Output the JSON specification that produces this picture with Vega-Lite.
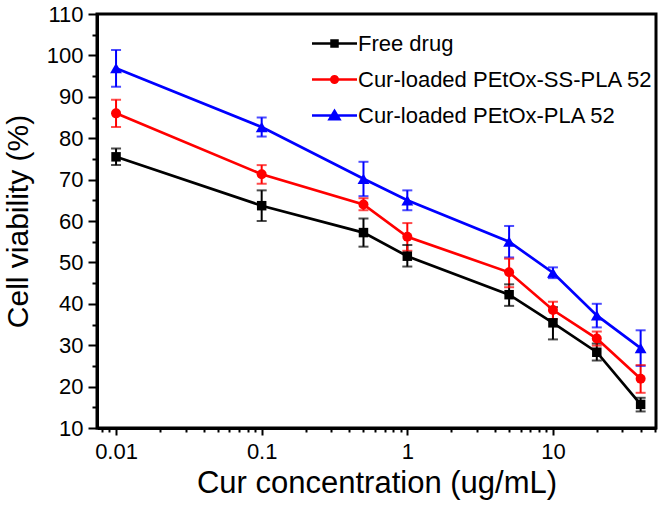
{
  "$schema": "https://vega.github.io/schema/vega-lite/v6.json",
  "width": 559,
  "height": 414,
  "autosize": {"type": "none"},
  "padding": {"left": 97, "right": 5, "top": 14, "bottom": 81},
  "background": "white",
  "config": {
    "font": "Liberation Sans",
    "view": {"stroke": "black", "strokeWidth": 3},
    "axis": {"grid": false, "domainColor": "black", "domainWidth": 3, "tickColor": "black", "labelColor": "black", "titleColor": "black", "labelFont": "Liberation Sans", "titleFont": "Liberation Sans", "titleFontWeight": "normal"},
    "legend": {"orient": "none", "legendX": 221, "legendY": 13, "labelFontSize": 22, "labelFont": "Liberation Sans", "labelColor": "black", "symbolSize": 900, "symbolStrokeWidth": 2.5, "symbolOpacity": 1, "rowPadding": 8, "labelOffset": 7, "padding": 0, "labelLimit": 400}
  },
  "datasets": {
    "cells": [
      {"conc": 0.01, "series": "Free drug", "v": 75.5, "lo": 73.5, "hi": 77.5},
      {"conc": 0.1, "series": "Free drug", "v": 63.7, "lo": 60.0, "hi": 67.4},
      {"conc": 0.5, "series": "Free drug", "v": 57.2, "lo": 53.8, "hi": 60.6},
      {"conc": 1, "series": "Free drug", "v": 51.5, "lo": 49.0, "hi": 54.2},
      {"conc": 5, "series": "Free drug", "v": 42.2, "lo": 39.5, "hi": 44.7},
      {"conc": 10, "series": "Free drug", "v": 35.4, "lo": 31.4, "hi": 39.2},
      {"conc": 20, "series": "Free drug", "v": 28.3, "lo": 26.3, "hi": 30.4},
      {"conc": 40, "series": "Free drug", "v": 15.7, "lo": 14.0, "hi": 17.3},
      {"conc": 0.01, "series": "Cur-loaded PEtOx-SS-PLA 52", "v": 86.0, "lo": 82.7, "hi": 89.3},
      {"conc": 0.1, "series": "Cur-loaded PEtOx-SS-PLA 52", "v": 71.3, "lo": 69.0, "hi": 73.5},
      {"conc": 0.5, "series": "Cur-loaded PEtOx-SS-PLA 52", "v": 64.0, "lo": 62.6, "hi": 65.5},
      {"conc": 1, "series": "Cur-loaded PEtOx-SS-PLA 52", "v": 56.2, "lo": 52.8, "hi": 59.5},
      {"conc": 5, "series": "Cur-loaded PEtOx-SS-PLA 52", "v": 47.6, "lo": 44.0, "hi": 50.9},
      {"conc": 10, "series": "Cur-loaded PEtOx-SS-PLA 52", "v": 38.5, "lo": 36.3, "hi": 40.5},
      {"conc": 20, "series": "Cur-loaded PEtOx-SS-PLA 52", "v": 31.6, "lo": 29.9, "hi": 33.3},
      {"conc": 40, "series": "Cur-loaded PEtOx-SS-PLA 52", "v": 21.9, "lo": 18.5, "hi": 25.2},
      {"conc": 0.01, "series": "Cur-loaded PEtOx-PLA 52", "v": 96.9, "lo": 92.4, "hi": 101.3},
      {"conc": 0.1, "series": "Cur-loaded PEtOx-PLA 52", "v": 82.7, "lo": 80.4, "hi": 85.0},
      {"conc": 0.5, "series": "Cur-loaded PEtOx-PLA 52", "v": 70.2, "lo": 66.0, "hi": 74.3},
      {"conc": 1, "series": "Cur-loaded PEtOx-PLA 52", "v": 65.0, "lo": 62.6, "hi": 67.4},
      {"conc": 5, "series": "Cur-loaded PEtOx-PLA 52", "v": 55.0, "lo": 51.2, "hi": 58.8},
      {"conc": 10, "series": "Cur-loaded PEtOx-PLA 52", "v": 47.5, "lo": 46.2, "hi": 48.8},
      {"conc": 20, "series": "Cur-loaded PEtOx-PLA 52", "v": 37.2, "lo": 34.3, "hi": 40.0},
      {"conc": 40, "series": "Cur-loaded PEtOx-PLA 52", "v": 29.3, "lo": 25.0, "hi": 33.6}
    ],
    "keys": [
      {"name": "Free drug", "k": 1},
      {"name": "Cur-loaded PEtOx-SS-PLA 52", "k": 2},
      {"name": "Cur-loaded PEtOx-PLA 52", "k": 3}
    ]
  },
  "data": {"name": "cells"},
  "encoding": {
    "x": {
      "field": "conc", "type": "quantitative",
      "scale": {"type": "log", "domain": [0.0074, 51], "nice": false},
      "axis": {
        "title": "Cur concentration (ug/mL)",
        "values": [0.008, 0.009, 0.01, 0.02, 0.03, 0.04, 0.05, 0.06, 0.07, 0.08, 0.09, 0.1, 0.2, 0.3, 0.4, 0.5, 0.6, 0.7, 0.8, 0.9, 1, 2, 3, 4, 5, 6, 7, 8, 9, 10, 20, 30, 40, 50],
        "format": "~g",
        "labelExpr": "datum.value == 0.01 || datum.value == 0.1 || datum.value == 1 || datum.value == 10 ? datum.label : ''",
        "tickSize": {"condition": {"test": "datum.value == 0.01 || datum.value == 0.1 || datum.value == 1 || datum.value == 10", "value": 7}, "value": 4},
        "tickWidth": 2,
        "labelFontSize": 22,
        "labelPadding": 6,
        "labelOverlap": false,
        "labelFlush": false,
        "titleFontSize": 31,
        "titlePadding": 6
      }
    },
    "y": {
      "field": "v", "type": "quantitative",
      "scale": {"domain": [10, 110], "nice": false, "zero": false},
      "axis": {
        "title": "Cell viability (%)",
        "values": [10, 15, 20, 25, 30, 35, 40, 45, 50, 55, 60, 65, 70, 75, 80, 85, 90, 95, 100, 105, 110],
        "labelExpr": "datum.value % 10 == 0 ? datum.label : ''",
        "tickSize": {"condition": {"test": "datum.value % 10 == 0", "value": 9}, "value": 5},
        "tickWidth": 2,
        "labelFontSize": 22,
        "labelPadding": 5,
        "labelOverlap": false,
        "labelFlush": false,
        "titleFontSize": 30,
        "titlePadding": 13
      }
    }
  },
  "layer": [
    {
      "mark": {"type": "rule", "strokeWidth": 2},
      "encoding": {
        "y": {"field": "lo", "type": "quantitative"},
        "y2": {"field": "hi"},
        "color": {"field": "series", "type": "nominal", "legend": null,
          "scale": {"domain": ["Cur-loaded PEtOx-PLA 52", "Cur-loaded PEtOx-SS-PLA 52", "Free drug"], "range": ["#0000ff", "#ff0000", "#000000"]}}
      }
    },
    {
      "mark": {"type": "tick", "orient": "horizontal", "size": 10, "thickness": 2},
      "encoding": {
        "y": {"field": "lo", "type": "quantitative"},
        "color": {"field": "series", "type": "nominal", "legend": null}
      }
    },
    {
      "mark": {"type": "tick", "orient": "horizontal", "size": 10, "thickness": 2},
      "encoding": {
        "y": {"field": "hi", "type": "quantitative"},
        "color": {"field": "series", "type": "nominal", "legend": null}
      }
    },
    {
      "mark": {"type": "line", "strokeWidth": 2.7},
      "encoding": {
        "color": {"field": "series", "type": "nominal", "legend": null}
      }
    },
    {
      "transform": [{"filter": "datum.series == 'Free drug'"}],
      "mark": {"type": "point", "filled": true, "opacity": 1, "shape": "square", "size": 90},
      "encoding": {"color": {"field": "series", "type": "nominal", "legend": null}}
    },
    {
      "transform": [{"filter": "datum.series == 'Cur-loaded PEtOx-SS-PLA 52'"}],
      "mark": {"type": "point", "filled": true, "opacity": 1, "shape": "circle", "size": 100},
      "encoding": {"color": {"field": "series", "type": "nominal", "legend": null}}
    },
    {
      "transform": [{"filter": "datum.series == 'Cur-loaded PEtOx-PLA 52'"}],
      "mark": {"type": "point", "filled": true, "opacity": 1, "shape": "triangle-up", "size": 140},
      "encoding": {"color": {"field": "series", "type": "nominal", "legend": null}}
    },
    {
      "data": {"name": "keys"},
      "transform": [{"filter": "datum.k > 10"}],
      "mark": {"type": "point", "filled": true, "strokeWidth": 2.5},
      "encoding": {
        "fill": {"field": "name", "type": "nominal", "title": null,
          "scale": {"domain": ["Free drug", "Cur-loaded PEtOx-SS-PLA 52", "Cur-loaded PEtOx-PLA 52"], "range": ["#000000", "#ff0000", "#0000ff"]}},
        "stroke": {"field": "name", "type": "nominal", "title": null,
          "scale": {"domain": ["Free drug", "Cur-loaded PEtOx-SS-PLA 52", "Cur-loaded PEtOx-PLA 52"], "range": ["#000000", "#ff0000", "#0000ff"]}},
        "shape": {"field": "name", "type": "nominal", "title": null,
          "scale": {"domain": ["Free drug", "Cur-loaded PEtOx-SS-PLA 52", "Cur-loaded PEtOx-PLA 52"], "range": ["M-1.5,0H1.5M-0.2,-0.2H0.2V0.2H-0.2Z", "M-1.5,0H1.5M-0.22,0A0.22,0.22 0 1,0 0.22,0A0.22,0.22 0 1,0 -0.22,0Z", "M-1.5,0H1.5M0,-0.3L0.33,0.25L-0.33,0.25Z"]}}
      }
    }
  ]
}
